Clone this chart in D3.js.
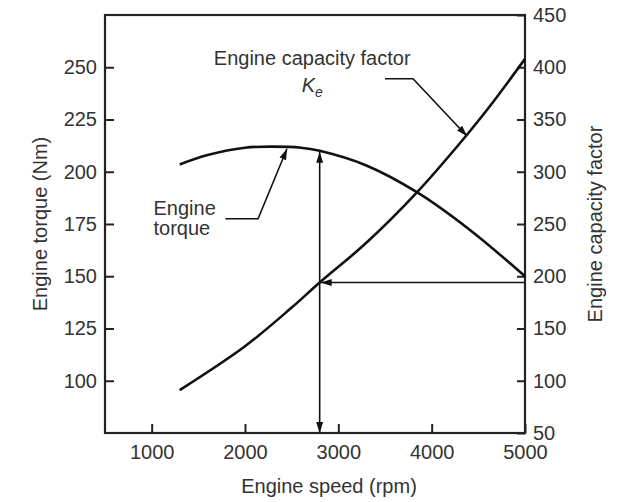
<!DOCTYPE html>
<html>
<head>
<meta charset="utf-8">
<script src="https://cdn.jsdelivr.net/npm/d3@7"></script>
<style>
  body { margin: 0; background: #fff; }
  text { font-family: "Liberation Sans", Arial, sans-serif; font-size: 20px; fill: #333; }
  .tick line { stroke: #222; stroke-width: 2; }
  .curve { fill: none; stroke: #111; stroke-width: 2.6; }
  .arrow { fill: none; stroke: #111; stroke-width: 1.6; }
</style>
</head>
<body>
<script>
// Engine torque curve (left axis)
var torqueRpm = [1300, 1600, 2000, 2300, 2600, 2800, 3300, 3850, 4400, 5000]
var torqueNm = [203.5, 208, 211.5, 212, 211.5, 210, 203, 190, 172.5, 150]

// Engine capacity factor Ke (right axis)
var keRpm = [1300, 2000, 2500, 2800, 3300, 3850, 4300, 4600, 5000]
var keValues = [91, 133, 170, 194, 232, 281, 327, 360, 408]

// Operating point
var opRpm = 2800, opKe = 194

// Tick labels
var xTicks = [1000, 2000, 3000, 4000, 5000]
var leftTicks = [100, 125, 150, 175, 200, 225, 250]
var rightTicks = [50, 100, 150, 200, 250, 300, 350, 400, 450]

var margin = {top: 15, right: 93, bottom: 69, left: 105},
    width = 618 - margin.left - margin.right,
    height = 502 - margin.top - margin.bottom;

var svg = d3.select("body").append("svg")
    .attr("width", 618).attr("height", 502)

var chart = svg.append("g")
    .attr("transform", "translate(" + margin.left + "," + margin.top + ")");

var x = d3.scaleLinear().domain([500, 5000]).range([0, width])
var yL = d3.scaleLinear().domain([75, 275]).range([height, 0])
var yR = d3.scaleLinear().domain([50, 450]).range([height, 0])

// arrow head
svg.append("defs").append("marker")
    .attr("id", "head")
    .attr("viewBox", "0 -4 11 8")
    .attr("refX", 11).attr("refY", 0)
    .attr("markerUnits", "userSpaceOnUse")
    .attr("markerWidth", 11).attr("markerHeight", 8)
    .attr("orient", "auto")
  .append("path").attr("d", "M0,-3.5L11,0L0,3.5Z").attr("fill", "#111")

// axes
chart.append("g")
    .attr("transform", "translate(0," + height + ")")
    .call(d3.axisBottom(x).tickValues(xTicks).tickFormat(d3.format("d")).tickSize(-9).tickPadding(12))
chart.append("g")
    .call(d3.axisLeft(yL).tickValues(leftTicks).tickSize(-9).tickPadding(8))
chart.append("g")
    .attr("transform", "translate(" + width + ",0)")
    .call(d3.axisRight(yR).tickValues(rightTicks).tickSize(-8).tickPadding(8))
chart.selectAll(".domain").remove()
chart.selectAll(".tick text").attr("fill", "#333").style("font-size", "20px")

// frame
chart.append("rect")
    .attr("width", width).attr("height", height)
    .attr("fill", "none").attr("stroke", "#222").attr("stroke-width", 2.2)

// curves
var torqueLine = d3.line().curve(d3.curveCatmullRom)
    .x(function(d, i) { return x(torqueRpm[i]); })
    .y(function(d) { return yL(d); })
var keLine = d3.line().curve(d3.curveCatmullRom)
    .x(function(d, i) { return x(keRpm[i]); })
    .y(function(d) { return yR(d); })

chart.append("path").datum(torqueNm).attr("class", "curve").attr("d", torqueLine)
chart.append("path").datum(keValues).attr("class", "curve").attr("d", keLine)

// operating point arrows
var opTorque = torqueNm[torqueRpm.indexOf(opRpm)]
chart.append("line").attr("class", "arrow")
    .attr("x1", x(5000)).attr("y1", yR(opKe))
    .attr("x2", x(opRpm) + 1).attr("y2", yR(opKe))
    .attr("marker-end", "url(#head)")
chart.append("line").attr("class", "arrow")
    .attr("x1", x(opRpm)).attr("y1", yR(opKe))
    .attr("x2", x(opRpm)).attr("y2", height)
    .attr("marker-end", "url(#head)")
chart.append("line").attr("class", "arrow")
    .attr("x1", x(opRpm)).attr("y1", yR(opKe))
    .attr("x2", x(opRpm)).attr("y2", yL(opTorque) + 1)
    .attr("marker-end", "url(#head)")

// annotation leaders
var leader = d3.line().x(function(d) { return x(d[0]); }).y(function(d) { return d[2] ? yR(d[1]) : yL(d[1]); })
chart.append("path").attr("class", "arrow")
    .datum([[1790, 177.5], [2140, 177.5], [2450, 211]])
    .attr("d", leader).attr("marker-end", "url(#head)")
chart.append("path").attr("class", "arrow")
    .datum([[3500, 389, 1], [3800, 389, 1], [4380, 334, 1]])
    .attr("d", leader).attr("marker-end", "url(#head)")

// annotation texts
chart.append("text").attr("text-anchor", "middle")
    .attr("x", x(2720)).attr("y", yR(402))
    .text("Engine capacity factor")
var ke = chart.append("text").attr("text-anchor", "middle")
    .attr("x", x(2720)).attr("y", yR(376))
ke.append("tspan").style("font-style", "italic").text("K")
ke.append("tspan").style("font-style", "italic").style("font-size", "14px").attr("dy", 5).text("e")

chart.append("text").attr("x", x(1020)).attr("y", yL(179.3)).text("Engine")
chart.append("text").attr("x", x(1020)).attr("y", yL(169.7)).text("torque")

// axis titles
svg.append("text").attr("text-anchor", "middle")
    .attr("transform", "translate(47," + (margin.top + height / 2) + ")rotate(-90)")
    .text("Engine torque (Nm)")
svg.append("text").attr("text-anchor", "middle")
    .attr("transform", "translate(602," + (margin.top + height / 2) + ")rotate(-90)")
    .text("Engine capacity factor")
svg.append("text").attr("text-anchor", "middle")
    .attr("x", margin.left + width / 2 + 14).attr("y", 493)
    .text("Engine speed (rpm)")
</script>
</body>
</html>
